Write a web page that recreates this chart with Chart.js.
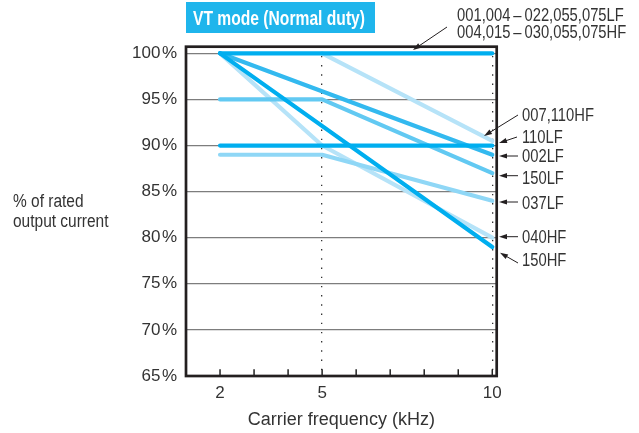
<!DOCTYPE html>
<html>
<head>
<meta charset="utf-8">
<script src="https://cdn.jsdelivr.net/npm/chart.js@4.4.1/dist/chart.umd.min.js"></script>
<style>
  html, body { margin: 0; padding: 0; background: #ffffff; }
  canvas { display: block; }
</style>
</head>
<body>
<canvas id="chart" width="639" height="433"></canvas>
<script>
// Output current derating vs. carrier frequency, VT mode (normal duty)

// Axis ticks
const xTickValues = [1, 2, 3, 4, 5, 6, 7, 8, 9, 10];
const xLabelValues = [2, 5, 10];
const xDottedValues = [5, 10];
const yTickValues = [65, 70, 75, 80, 85, 90, 95, 100];

// Series: carrier frequency (kHz) and % of rated output current
const groupFreq = [2, 10];
const groupPct = [100, 100];
const hf007Freq = [5, 10];
const hf007Pct = [100, 90.5];
const lf110Freq = [2, 10];
const lf110Pct = [90, 90];
const lf002Freq = [2, 10];
const lf002Pct = [100, 89];
const lf150Freq = [2, 5, 10];
const lf150Pct = [95, 95, 87];
const lf037Freq = [2, 5, 10];
const lf037Pct = [89, 89, 84];
const hf040Freq = [2, 5, 10];
const hf040Pct = [100, 90, 80];
const hf150Freq = [2, 10];
const hf150Pct = [100, 79];

const DARK = '#00aeef';
const MID = '#33b9ef';
const LIGHT = '#62c9f2';
const SOFT = '#8fd7f6';
const PALE = '#b6e3f8';

const REGULAR = '"Liberation Sans", Arial, sans-serif';
const TEXT = '#333333';

function pts(xs, ys) { return xs.map((x, i) => ({ x: x, y: ys[i] })); }

function series(label, xs, ys, color, order) {
  return {
    label: label,
    data: pts(xs, ys),
    borderColor: color,
    backgroundColor: color,
    borderWidth: 4.2,
    borderCapStyle: 'round',
    borderJoinStyle: 'round',
    pointRadius: 0,
    tension: 0,
    fill: false,
    order: order
  };
}

const datasets = [
  series('007,110HF', hf007Freq, hf007Pct, PALE, 5),
  series('040HF', hf040Freq, hf040Pct, PALE, 5),
  series('037LF', lf037Freq, lf037Pct, SOFT, 4),
  series('150LF', lf150Freq, lf150Pct, LIGHT, 3),
  series('002LF', lf002Freq, lf002Pct, MID, 2),
  series('150HF', hf150Freq, hf150Pct, DARK, 1),
  series('110LF', lf110Freq, lf110Pct, DARK, 1),
  series('001,004–022,055,075LF / 004,015–030,055,075HF', groupFreq, groupPct, DARK, 0)
];

// Callout texts and leader arrows (canvas pixels)
const calloutLabels = [
  { text: '001,004\u2009–\u2009022,055,075LF', x: 457, y: 20.7 },
  { text: '004,015\u2009–\u2009030,055,075HF', x: 457, y: 38.3 },
  { text: '007,110HF', x: 522, y: 120.7 },
  { text: '110LF', x: 522, y: 143.3 },
  { text: '002LF', x: 522, y: 161.7 },
  { text: '150LF', x: 522, y: 184 },
  { text: '037LF', x: 522, y: 209.3 },
  { text: '040HF', x: 522, y: 243.3 },
  { text: '150HF', x: 522, y: 266 }
];
const calloutArrows = [
  { from: [447, 27], to: [413, 50] },
  { from: [518, 115], to: [484, 136] },
  { from: [517, 137], to: [499, 143] },
  { from: [518, 156], to: [499, 156] },
  { from: [518, 175.7], to: [499, 175.7] },
  { from: [518, 202], to: [499, 202] },
  { from: [518, 236.7], to: [499, 236.7] },
  { from: [518, 263], to: [500, 252.7] }
];

// condensed text: regular face squeezed horizontally
function fillCondensed(ctx, text, x, y, font, squeeze) {
  ctx.save();
  ctx.font = font;
  ctx.translate(x, y);
  ctx.scale(squeeze, 1);
  ctx.fillText(text, 0, 0);
  ctx.restore();
}

function drawArrow(ctx, from, to) {
  const [x1, y1] = from, [x2, y2] = to;
  const ang = Math.atan2(y2 - y1, x2 - x1);
  const len = 8, half = 2.6;
  ctx.beginPath();
  ctx.moveTo(x1, y1);
  ctx.lineTo(x2 - Math.cos(ang) * (len - 1), y2 - Math.sin(ang) * (len - 1));
  ctx.stroke();
  ctx.beginPath();
  ctx.moveTo(x2, y2);
  ctx.lineTo(x2 - Math.cos(ang) * len - Math.sin(ang) * half, y2 - Math.sin(ang) * len + Math.cos(ang) * half);
  ctx.lineTo(x2 - Math.cos(ang) * len + Math.sin(ang) * half, y2 - Math.sin(ang) * len - Math.cos(ang) * half);
  ctx.closePath();
  ctx.fill();
}

const decorations = {
  id: 'decorations',
  afterDatasetsDraw(chart) {
    const ctx = chart.ctx;
    const area = chart.chartArea;
    const xs = chart.scales.x;
    ctx.save();

    // inward tick marks on the frequency axis
    ctx.strokeStyle = '#222';
    ctx.lineWidth = 1.5;
    xTickValues.forEach(v => {
      const px = xs.getPixelForValue(v);
      ctx.beginPath();
      ctx.moveTo(px, area.bottom);
      ctx.lineTo(px, area.bottom - 6.7);
      ctx.stroke();
    });

    // plot frame
    ctx.lineWidth = 2.7;
    ctx.strokeStyle = '#231f20';
    ctx.strokeRect(area.left, area.top, area.right - area.left, area.bottom - area.top);

    ctx.textAlign = 'left';
    ctx.textBaseline = 'alphabetic';

    // mode banner
    ctx.fillStyle = '#1fb5ec';
    ctx.fillRect(186, 2, 189, 31);
    ctx.fillStyle = '#ffffff';
    ctx.font = 'bold 21px ' + REGULAR;
    const bannerText = 'VT mode (Normal duty)';
    const bannerSqueeze = 172 / ctx.measureText(bannerText).width;
    fillCondensed(ctx, bannerText, 193, 25, 'bold 21px ' + REGULAR, bannerSqueeze);

    // y-axis caption
    ctx.fillStyle = TEXT;
    fillCondensed(ctx, '% of rated', 13, 206.7, '18px ' + REGULAR, 0.86);
    fillCondensed(ctx, 'output current', 13, 226.7, '18px ' + REGULAR, 0.86);

    // callouts
    calloutLabels.forEach(l => fillCondensed(ctx, l.text, l.x, l.y, '18px ' + REGULAR, 0.82));
    ctx.strokeStyle = '#231f20';
    ctx.fillStyle = '#231f20';
    ctx.lineWidth = 1;
    calloutArrows.forEach(a => drawArrow(ctx, a.from, a.to));
    ctx.restore();
  }
};

new Chart(document.getElementById('chart'), {
  type: 'line',
  data: { datasets: datasets },
  options: {
    responsive: false,
    animation: false,
    devicePixelRatio: 1,
    layout: { padding: { left: 0, top: 46.7, right: 142.3, bottom: 0 } },
    plugins: { legend: { display: false }, tooltip: { enabled: false } },
    scales: {
      x: {
        type: 'linear',
        min: 1,
        max: 10.13,
        afterBuildTicks: s => { s.ticks = xTickValues.map(v => ({ value: v })); },
        afterFit: s => { s.height = 57; },
        grid: {
          drawTicks: false,
          lineWidth: 1.3,
          color: c => (c.tick && xDottedValues.includes(c.tick.value)) ? '#333333' : 'rgba(0,0,0,0)'
        },
        border: { display: false, dash: [1.4, 7.8] },
        ticks: {
          autoSkip: false,
          maxRotation: 0,
          padding: 7,
          color: TEXT,
          font: { family: REGULAR, size: 17 },
          callback: v => xLabelValues.includes(v) ? String(v) : ''
        },
        title: {
          display: true,
          text: 'Carrier frequency (kHz)',
          color: TEXT,
          font: { family: REGULAR, size: 18 },
          padding: { top: 0, bottom: 2 }
        }
      },
      y: {
        type: 'linear',
        min: 65,
        max: 100.72,
        afterBuildTicks: s => { s.ticks = yTickValues.map(v => ({ value: v })); },
        afterFit: s => { s.width = 186; },
        grid: {
          drawTicks: false,
          lineWidth: 1.3,
          color: c => (c.tick && c.tick.value > 65) ? '#7d7d7d' : 'rgba(0,0,0,0)'
        },
        border: { display: false },
        ticks: {
          padding: 9,
          color: TEXT,
          font: { family: REGULAR, size: 17 },
          callback: v => v + '\u200a%'
        }
      }
    }
  },
  plugins: [decorations]
});
</script>
</body>
</html>
